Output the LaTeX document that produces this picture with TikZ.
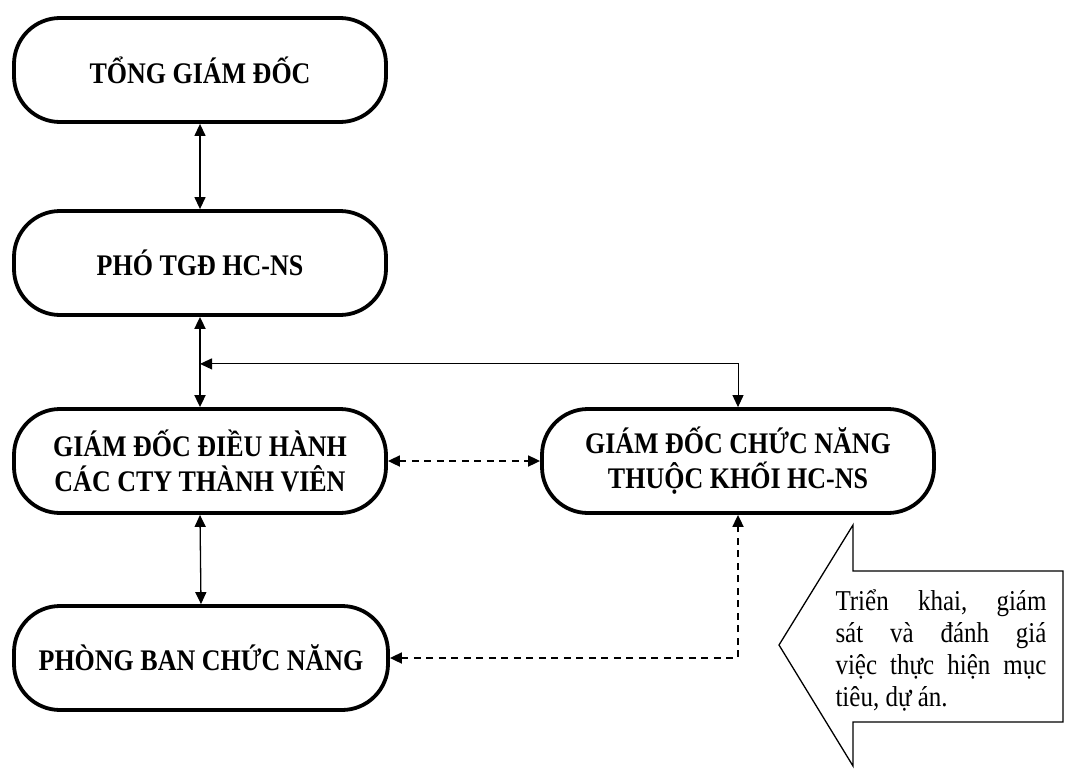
\documentclass[tikz,border=0pt]{standalone}
\usepackage{fontspec}
\setmainfont{Liberation Serif}
\usetikzlibrary{arrows.meta}
% slightly tall lettering
\newcommand\tallline[1]{\scalebox{1}[1.15]{#1}}
\begin{document}
\begin{tikzpicture}[x=1pt,y=-1pt,
  box/.style={draw,line width=3.8pt,rounded corners=46pt,minimum width=372pt,
    minimum height=104pt,align=center,inner sep=0pt,
    font=\fontsize{26}{35}\selectfont\bfseries},
  tip/.tip={Triangle[length=12pt,width=11pt]},
  link/.style={line width=1.3pt,tip-tip},
  dashlink/.style={line width=1.8pt,dash pattern=on 7pt off 5.5pt,tip-tip},
  callout/.style={draw,line width=1.3pt}
]
\useasboundingbox (0,0) rectangle (1073,768);

% main boxes
\node[box] (tgd)  at (200,70)  {\tallline{TỔNG GIÁM ĐỐC}};
\node[box] (pho)  at (200,263) {\tallline{PHÓ TGĐ HC-NS}};
\node[box] (gddh) at (200,461) {\tallline{GIÁM ĐỐC ĐIỀU HÀNH}\\\tallline{CÁC CTY THÀNH VIÊN}};
\node[box,minimum width=392pt] (gdcn) at (738,461) {\tallline{GIÁM ĐỐC CHỨC NĂNG}\\\tallline{THUỘC KHỐI HC-NS}};
\node[box,minimum width=374pt] (pbcn) at (201,658) {\tallline{PHÒNG BAN CHỨC NĂNG}};

% solid links
\draw[link] (tgd.south) -- (pho.north);
\draw[link,line width=1.8pt] (pho.south) -- (gddh.north);
\path (pho.south) ++(0,47) coordinate (j);
\draw[link,line width=1pt] (j) -| (gdcn.north);
\draw[link] (gddh.south) -- (pbcn.north);

% dashed links
\draw[dashlink] (gddh.east) -- (gdcn.west);
\draw[dashlink] (pbcn.east) -| (gdcn.south);

% left-pointing callout arrow
\draw[callout] (779,645) -- (853,525) -- (853,571) -- (1063,571) -- (1063,722)
  -- (853,722) -- (853,766) -- cycle;
\node[inner sep=0pt,align=left,font=\fontsize{25}{32}\selectfont] (note) at (941,650)
  {\tallline{\makebox[211pt][s]{Triển\hfill khai,\hfill giám}}\\
   \tallline{\makebox[211pt][s]{sát\hfill và\hfill đánh\hfill giá}}\\
   \tallline{\makebox[211pt][s]{việc\hfill thực\hfill hiện\hfill mục}}\\
   \tallline{tiêu, dự án.}};
\end{tikzpicture}
\end{document}
